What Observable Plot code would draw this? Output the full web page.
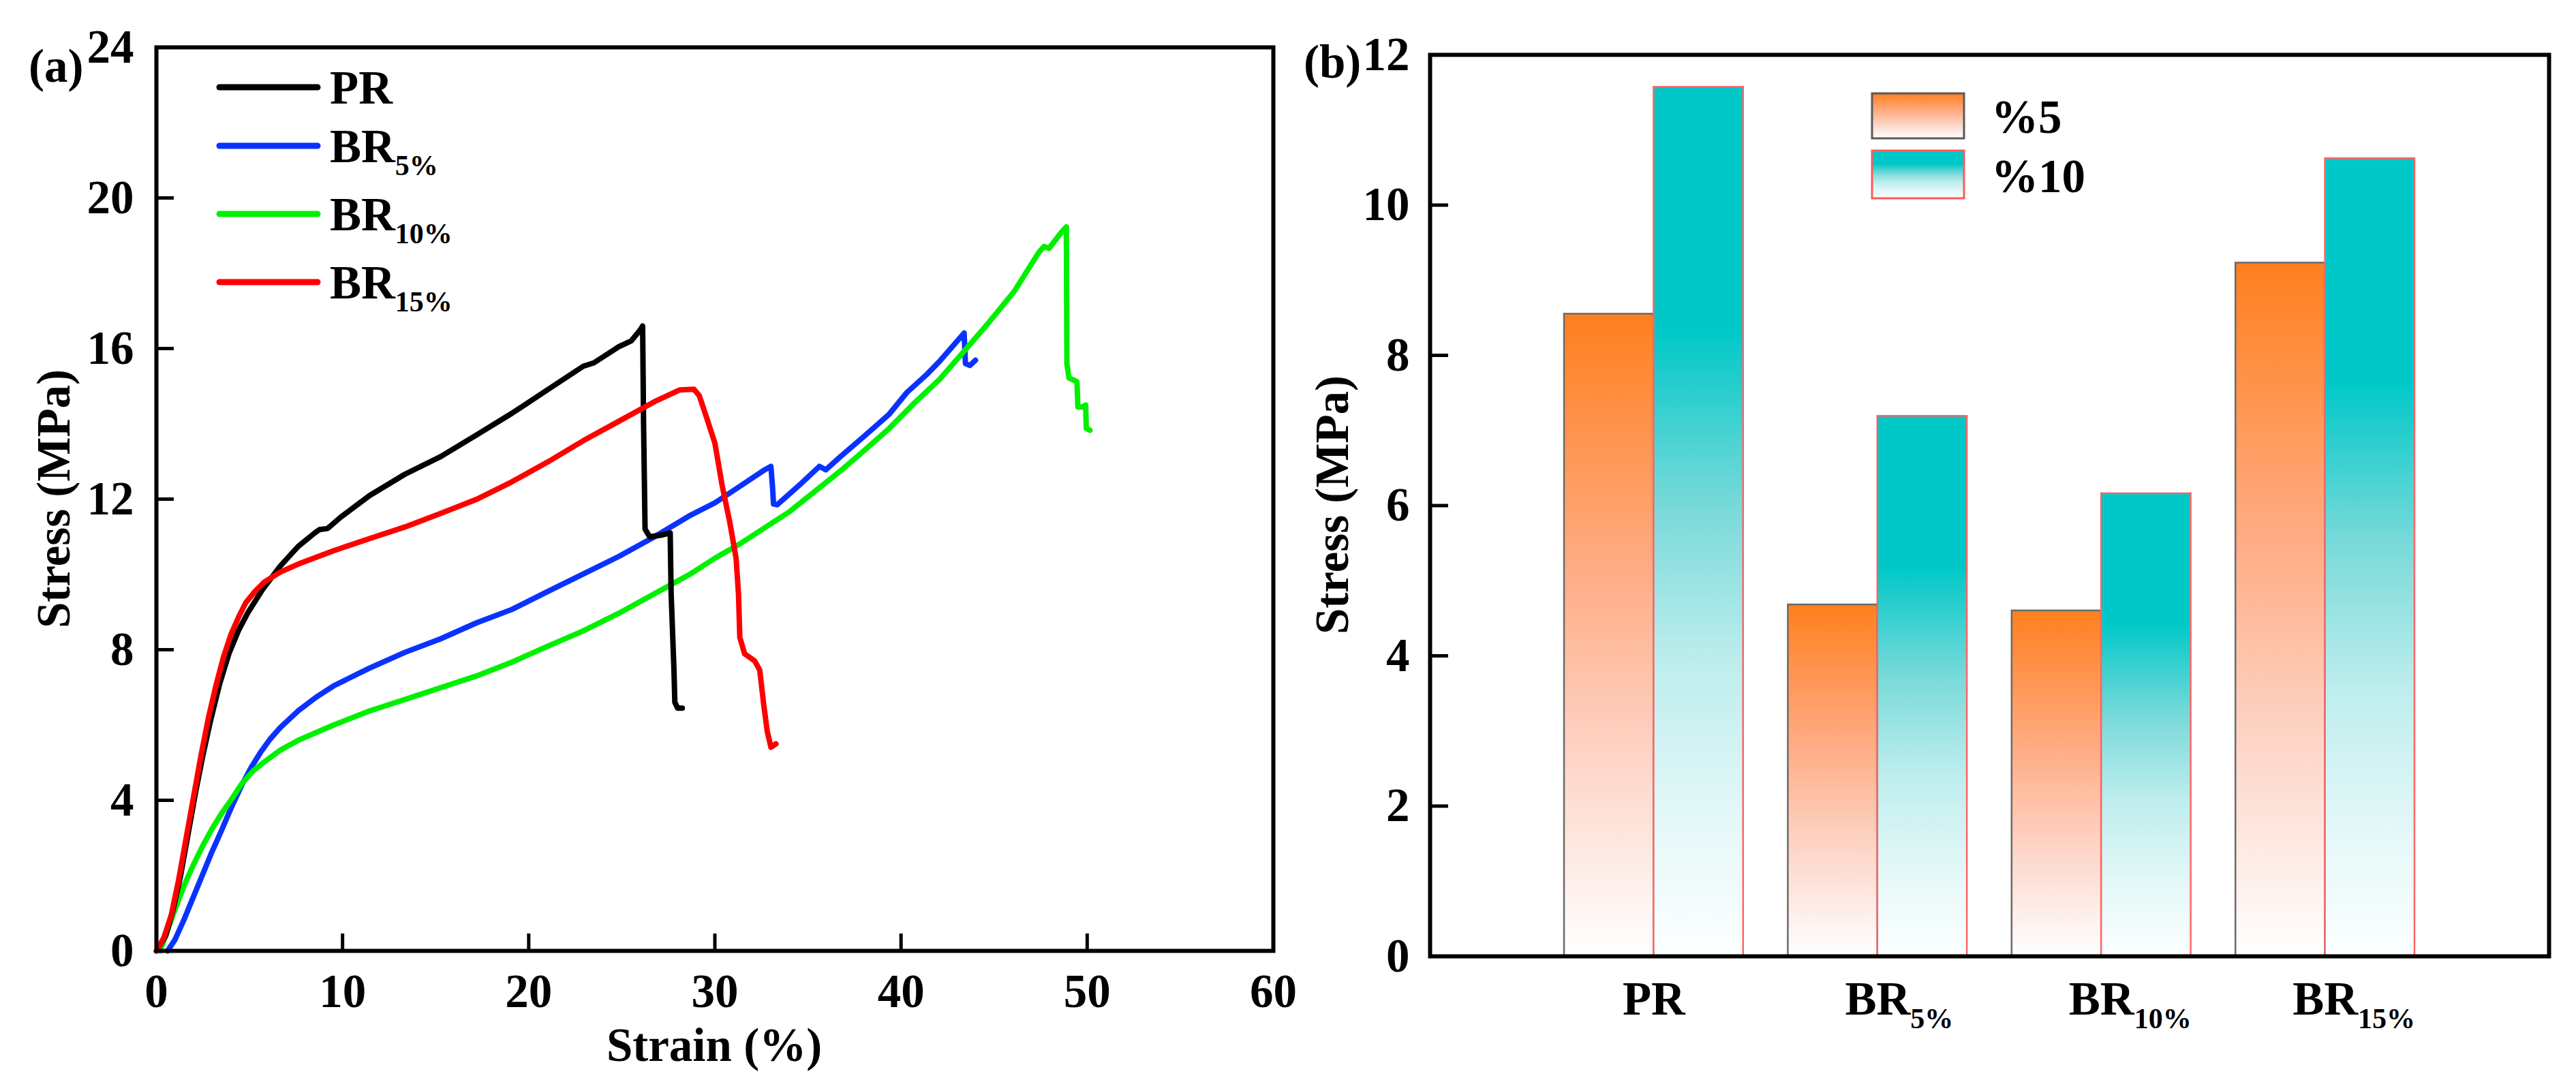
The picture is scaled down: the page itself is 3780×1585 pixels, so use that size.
<!DOCTYPE html>
<html><head><meta charset="utf-8">
<script src="https://cdn.jsdelivr.net/npm/d3@7"></script>
<script src="https://cdn.jsdelivr.net/npm/@observablehq/plot@0.6"></script>
<style>
html,body{margin:0;padding:0;background:#fff;}
#wrap{display:flex;width:3780px;height:1585px;overflow:hidden;background:#fff;}
#wrap svg{display:block;flex:none;overflow:visible;}
</style></head><body><div id="wrap"></div>
<script>
// ---------- data: panel (a) stress–strain curves [strain %, stress MPa] ----------
const curvePR = [[0,0],[0.5,0.4],[0.9,1.1],[1.3,2.0],[1.7,3.1],[2.1,4.2],[2.5,5.2],[2.9,6.1],[3.4,7.1],[3.9,7.9],[4.4,8.5],[4.9,8.97],[5.69,9.59],[6.65,10.22],[7.61,10.74],[8.5,11.1],[8.76,11.19],[9.2,11.22],[9.9,11.52],[11.44,12.09],[13.35,12.66],[15.27,13.13],[17.18,13.7],[19.1,14.28],[21.0,14.9],[22.93,15.53],[23.5,15.62],[24.85,16.05],[25.5,16.2],[26.0,16.5],[26.12,16.6],[26.17,14.0],[26.25,11.2],[26.5,11.0],[27.2,11.05],[27.6,11.1],[27.65,9.5],[27.8,7.5],[27.85,6.6],[28.0,6.45],[28.25,6.45]];
const curveBR5 = [[0.6,0],[1.0,0.3],[1.5,0.85],[2.0,1.45],[2.5,2.05],[3.0,2.65],[3.5,3.2],[4.0,3.78],[4.6,4.42],[5.1,4.88],[5.6,5.28],[6.1,5.62],[6.65,5.93],[7.6,6.37],[8.56,6.73],[9.52,7.04],[11.44,7.51],[13.35,7.93],[15.27,8.29],[17.18,8.71],[19.1,9.07],[21.0,9.54],[22.93,10.01],[24.85,10.48],[26.76,11.0],[28.68,11.57],[30.0,11.9],[31.34,12.34],[32.68,12.78],[33.01,12.87],[33.1,12.3],[33.15,11.87],[33.35,11.85],[34.69,12.44],[35.62,12.87],[35.96,12.78],[36.7,13.11],[38.04,13.68],[39.37,14.26],[40.31,14.83],[41.38,15.31],[42.05,15.65],[43.39,16.41],[43.46,15.6],[43.7,15.55],[44.0,15.69]];
const curveBR10 = [[0.2,0],[0.6,0.55],[1.0,1.1],[1.5,1.75],[2.0,2.3],[2.5,2.8],[3.0,3.25],[3.5,3.65],[4.0,4.0],[4.6,4.45],[5.2,4.78],[5.69,4.98],[6.65,5.33],[7.6,5.59],[9.52,6.0],[11.44,6.37],[13.35,6.68],[15.27,6.99],[17.18,7.3],[19.1,7.67],[21.0,8.09],[22.93,8.5],[24.85,8.97],[26.76,9.49],[28.68,10.01],[30.0,10.43],[31.34,10.81],[32.68,11.24],[34.02,11.67],[35.36,12.2],[36.7,12.73],[38.04,13.3],[39.37,13.88],[40.71,14.55],[42.05,15.17],[43.39,15.93],[44.73,16.7],[46.07,17.51],[47.41,18.56],[47.68,18.71],[47.95,18.66],[48.62,19.09],[48.88,19.23],[48.91,15.6],[49.02,15.22],[49.45,15.12],[49.5,14.45],[49.75,14.45],[49.92,14.5],[49.95,13.88],[50.15,13.83]];
const curveBR15 = [[0,0],[0.4,0.35],[0.8,0.95],[1.2,1.9],[1.6,3.0],[2.0,4.1],[2.4,5.2],[2.8,6.2],[3.2,7.05],[3.6,7.8],[4.0,8.4],[4.4,8.85],[4.8,9.25],[5.3,9.55],[5.8,9.8],[6.65,10.06],[7.6,10.27],[9.52,10.63],[11.44,10.95],[13.35,11.26],[15.27,11.62],[17.18,11.99],[19.1,12.46],[21.0,12.98],[22.93,13.55],[24.85,14.07],[26.76,14.59],[28.1,14.9],[28.87,14.92],[29.16,14.75],[29.6,14.1],[30.0,13.49],[30.4,12.34],[30.8,11.39],[31.14,10.43],[31.27,9.47],[31.34,8.33],[31.6,7.89],[32.14,7.7],[32.41,7.46],[32.61,6.6],[32.81,5.84],[33.01,5.41],[33.28,5.5]];
const curveNames = ["PR","BR_5%","BR_10%","BR_15%"];
const curveColors = ["#000000","#0a32ff","#00f000","#ff0000"];
const strainTicks = [0,10,20,30,40,50,60];
const stressTicksA = [0,4,8,12,16,20,24];

// ---------- data: panel (b) bar chart ----------
const categories = ["PR","BR5%","BR10%","BR15%"];
const mainLabels = ["PR","BR","BR","BR"];
const subLabels = ["","5%","10%","15%"];
const values5 = [8.55,4.68,4.60,9.23];
const values10 = [11.57,7.19,6.16,10.62];
const seriesLabels = ["%5","%10"];
const stressTicksB = [0,2,4,6,8,10,12];

const FONT = "'Liberation Serif','Times New Roman',Times,serif";
const W = 1890, H = 1585;
const wrap = document.getElementById("wrap");
const fmt = d => String(d);

function addText(sel, x, y, str, size = 69) {
  return sel.append("text").attr("x", x).attr("y", y).attr("text-anchor", "start")
    .attr("font-size", size).attr("font-weight", "bold").attr("font-family", FONT).attr("fill", "black").text(str);
}

// ---------------- panel (a) ----------------
const A = {l:229, r:22, t:69, b:190};
const lineOpts = (c) => ({x: d => d[0], y: d => d[1], stroke: c, strokeWidth: 8, strokeLinejoin: "round", strokeLinecap: "round"});
const plotA = Plot.plot({
  width: W, height: H,
  marginLeft: A.l, marginRight: A.r, marginTop: A.t, marginBottom: A.b,
  x: {domain: [0,60], label: null},
  y: {domain: [0,24], label: null},
  style: {fontFamily: FONT, fontSize: "69px", fontWeight: "bold", background: "transparent", color: "black", overflow: "visible"},
  marks: [
    Plot.ruleX(strainTicks, {x: d => d, insetTop: H - A.t - A.b - 25, strokeWidth: 5}),
    Plot.ruleY(stressTicksA, {y: d => d, insetRight: W - A.l - A.r - 26, strokeWidth: 5}),
    Plot.line(curveBR5, lineOpts(curveColors[1])),
    Plot.line(curveBR10, lineOpts(curveColors[2])),
    Plot.line(curvePR, lineOpts(curveColors[0])),
    Plot.line(curveBR15, lineOpts(curveColors[3])),
    Plot.axisX(strainTicks, {tickSize: 0, tickPadding: 33, tickFormat: fmt, label: null}),
    Plot.axisY(stressTicksA, {tickSize: 0, tickPadding: 33, tickFormat: fmt, label: null}),
    Plot.frame({strokeWidth: 6})
  ]
});
wrap.appendChild(plotA);
{
  const s = d3.select(plotA);
  addText(s, 42, 120, "(a)");
  addText(s, 0, 0, "Stress (MPa)").attr("transform", "translate(102,732) rotate(-90)").attr("text-anchor", "middle");
  addText(s, 1048, 1557, "Strain (%)").attr("text-anchor", "middle");
  const ly = [128, 214, 314, 414];
  curveNames.forEach((n, i) => {
    s.append("line").attr("x1", 322).attr("x2", 466).attr("y1", ly[i]).attr("y2", ly[i])
      .attr("stroke", curveColors[i]).attr("stroke-width", 9).attr("stroke-linecap", "round");
    const parts = n.split("_");
    const t = addText(s, 484, ly[i] + 24, parts[0]);
    if (parts[1]) t.append("tspan").attr("font-size", 42).attr("dy", 19).text(parts[1]);
  });
}

// ---------------- panel (b) ----------------
const B = {l:208, r:40, t:80, b:182};
const rows5 = categories.map((c, i) => ({cat: c, pos: i + 1, value: values5[i]}));
const rows10 = categories.map((c, i) => ({cat: c, pos: i + 1, value: values10[i]}));
const rowsSub = categories.map((c, i) => ({pos: i + 1, sub: subLabels[i]})).filter(d => d.sub);
const plotB = Plot.plot({
  width: W, height: H,
  marginLeft: B.l, marginRight: B.r, marginTop: B.t, marginBottom: B.b,
  x: {domain: [0,5], label: null},
  y: {domain: [0,12], label: null},
  style: {fontFamily: FONT, fontSize: "69px", fontWeight: "bold", background: "transparent", color: "black", overflow: "visible"},
  marks: [
    Plot.rect(rows5, {x1: d => d.pos - 0.4, x2: d => d.pos, y1: 0, y2: "value", fill: "url(#gradOrange)", stroke: "#6a6a6a", strokeWidth: 2.5}),
    Plot.rect(rows10, {x1: d => d.pos, x2: d => d.pos + 0.4, y1: 0, y2: "value", fill: "url(#gradTeal)", stroke: "#ff6464", strokeWidth: 2.5}),
    Plot.ruleY(stressTicksB, {y: d => d, insetRight: W - B.l - B.r - 27, strokeWidth: 5}),
    Plot.axisX(categories.map((c, i) => i + 1), {tickSize: 0, tickPadding: 36, tickFormat: p => mainLabels[p - 1], label: null}),
    Plot.text(rowsSub, {x: "pos", text: "sub", frameAnchor: "bottom", lineAnchor: "bottom", textAnchor: "start", dx: 48, dy: 105, fontSize: 42}),
    Plot.axisY(stressTicksB, {tickSize: 0, tickPadding: 30, tickFormat: fmt, label: null}),
    Plot.frame({strokeWidth: 6})
  ]
});
wrap.appendChild(plotB);
{
  const s = d3.select(plotB);
  const defs = s.insert("defs", ":first-child");
  const g1 = defs.append("linearGradient").attr("id", "gradOrange").attr("x1", 0).attr("y1", 0).attr("x2", 0).attr("y2", 1);
  [[0,"#ff7f1e"],[0.4,"#ffac84"],[0.7,"#fdd6c9"],[1,"#ffffff"]].forEach(([o,c]) => g1.append("stop").attr("offset", o).attr("stop-color", c));
  const g2 = defs.append("linearGradient").attr("id", "gradTeal").attr("x1", 0).attr("y1", 0).attr("x2", 0).attr("y2", 1);
  [[0,"#00c8c8"],[0.28,"#00c8c8"],[0.48,"#78d9d9"],[0.66,"#bdeded"],[0.85,"#e6f8f8"],[1,"#fcffff"]].forEach(([o,c]) => g2.append("stop").attr("offset", o).attr("stop-color", c));

  addText(s, 23, 114, "(b)");
  addText(s, 0, 0, "Stress (MPa)").attr("transform", "translate(88,741) rotate(-90)").attr("text-anchor", "middle");
  const legendFill = ["url(#gradOrange)", "url(#gradTeal)"];
  const legendStroke = ["#5a5a5a", "#ff5a5a"];
  const boxY = [137, 221], boxH = [66, 70], textY = [195, 282];
  seriesLabels.forEach((lab, i) => {
    s.append("rect").attr("x", 857).attr("y", boxY[i]).attr("width", 135).attr("height", boxH[i])
      .attr("fill", legendFill[i]).attr("stroke", legendStroke[i]).attr("stroke-width", 3);
    addText(s, 1032, textY[i], lab);
  });
}
</script></body></html>
